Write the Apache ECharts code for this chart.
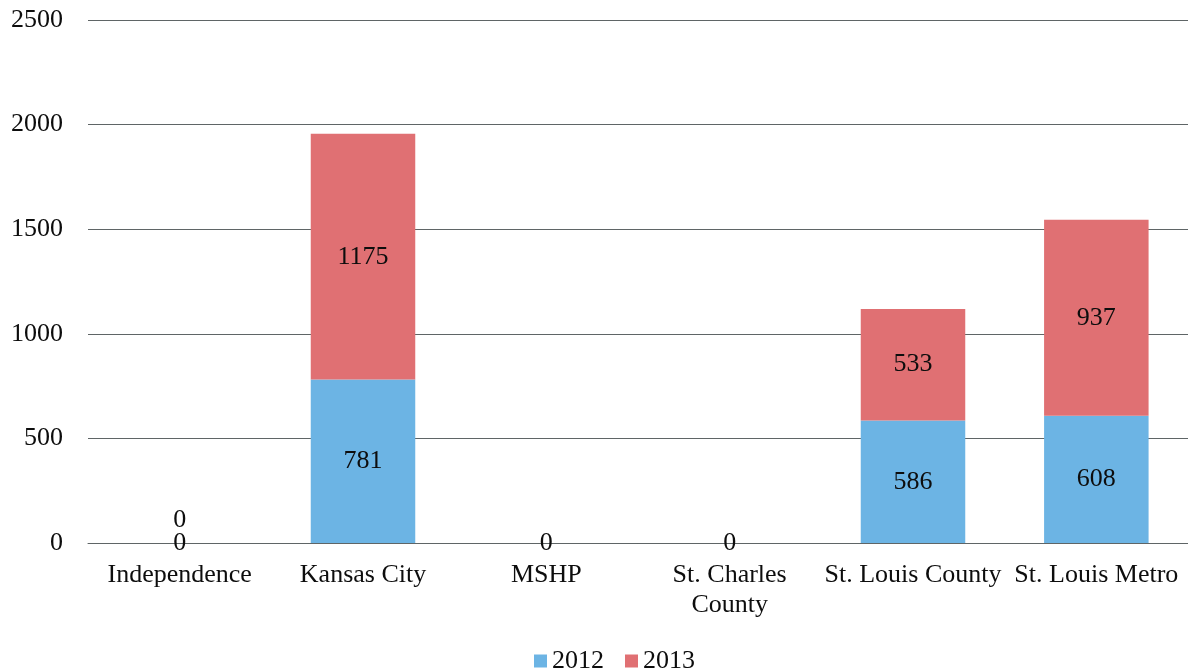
<!DOCTYPE html>
<html>
<head>
<meta charset="utf-8">
<script src="https://cdn.jsdelivr.net/npm/echarts@6/dist/echarts.min.js"></script>
<style>
  html, body { margin: 0; padding: 0; background: #fff; }
  #chart { width: 1188px; height: 672px; }
</style>
</head>
<body>
<div id="chart"></div>
<script>
// Agencies and yearly counts (stacked columns)
const categories = ['Independence', 'Kansas City', 'MSHP', 'St. Charles County', 'St. Louis County', 'St. Louis Metro'];
const values2012 = [0, 781, 0, 0, 586, 608];
const values2013 = [0, 1175, null, null, 533, 937];
const seriesNames = ['2012', '2013'];
const yTicks = { min: 0, max: 2500, interval: 500 };

const FONT = '"Liberation Serif", "Times New Roman", serif';
const TEXT = '#0d0d0d';
const SIZE = 26;

const chart = echarts.init(document.getElementById('chart'));

const labelBase = {
  show: true,
  position: 'inside',
  fontFamily: FONT,
  fontSize: SIZE,
  color: TEXT
};

// A zero on top of a zero sits just above the axis so both labels remain readable
const data2013 = values2013.map((v, i) => {
  if (v === 0 && values2012[i] === 0) {
    return { value: v, label: { position: 'top', distance: 10 } };
  }
  return v;
});

chart.setOption({
  animation: false,
  backgroundColor: '#fff',
  textStyle: { fontFamily: FONT },
  grid: { left: 88, width: 1104, top: 20, bottom: 129, containLabel: false },
  legend: {
    data: seriesNames,
    left: 529,
    top: 643,
    itemWidth: 13,
    itemHeight: 13,
    itemGap: 21,
    icon: 'rect',
    textStyle: { fontFamily: FONT, fontSize: SIZE, color: TEXT }
  },
  xAxis: {
    type: 'category',
    data: categories,
    axisLine: { show: true, lineStyle: { color: '#5f6566', width: 1 } },
    axisTick: { show: false },
    axisLabel: {
      interval: 0,
      margin: 17,
      fontFamily: FONT,
      fontSize: SIZE,
      lineHeight: 30,
      color: TEXT,
      formatter: v => v === 'St. Charles County' ? 'St. Charles\nCounty' : v
    }
  },
  yAxis: {
    type: 'value',
    min: yTicks.min,
    max: yTicks.max,
    interval: yTicks.interval,
    axisLine: { show: false },
    axisTick: { show: false },
    axisLabel: {
      margin: 25,
      fontFamily: FONT,
      fontSize: SIZE,
      color: TEXT,
      formatter: v => String(v)
    },
    splitLine: { show: true, lineStyle: { color: '#5f6566', width: 1 } }
  },
  series: [
    {
      name: seriesNames[0],
      type: 'bar',
      stack: 'total',
      barWidth: '57%',
      itemStyle: { color: '#6CB4E4' },
      label: labelBase,
      data: values2012
    },
    {
      name: seriesNames[1],
      type: 'bar',
      stack: 'total',
      barWidth: '57%',
      itemStyle: { color: '#E07073' },
      label: labelBase,
      data: data2013
    }
  ]
});
</script>
</body>
</html>
